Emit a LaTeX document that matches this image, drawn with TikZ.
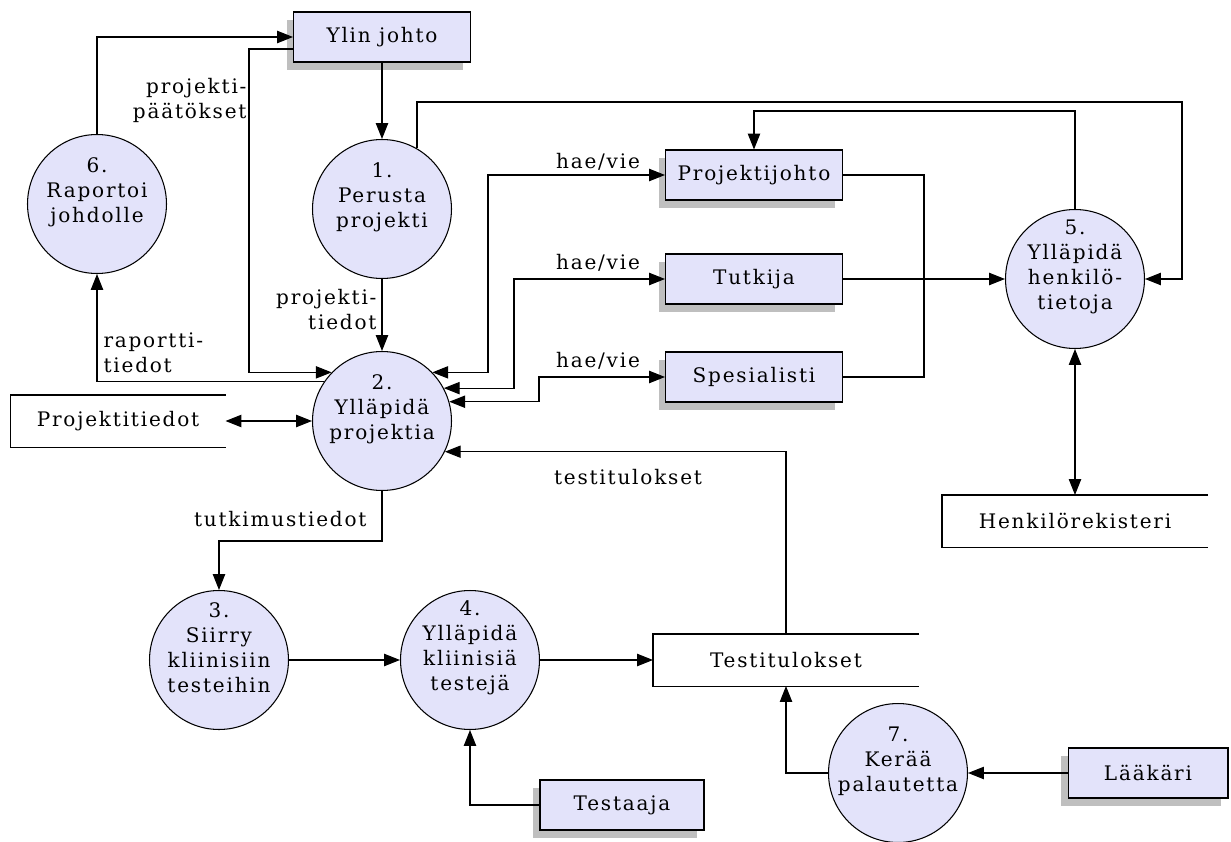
\documentclass[tikz,border=0pt]{standalone}
\usepackage{fontspec}
\setmainfont{DejaVu Serif}[LetterSpace=9]
\usetikzlibrary{arrows.meta,shadows,calc}
\definecolor{lav}{RGB}{227,227,250}
\definecolor{shade}{RGB}{191,191,191}
\tikzset{
  ent/.style={draw=black, fill=lav, minimum width=3.54cm, minimum height=1cm,
    drop shadow={shadow xshift=-0.14cm, shadow yshift=-0.16cm, fill=shade, opacity=1}},
  proc/.style={draw=black, fill=lav, shape=circle, minimum size=2.78cm, inner sep=0pt},
  ptxt/.style={align=center, yshift=0.24cm},
  store/.style={minimum height=1.02cm},
  lbl/.style={inner sep=0pt},
  flow/.style={-{Triangle[length=9pt,width=7pt]}},
  both/.style={{Triangle[length=9pt,width=7pt]}-{Triangle[length=9pt,width=7pt]}},
}
\begin{document}
\begin{tikzpicture}[x=0.02cm, y=-0.02cm, line width=0.6pt, font=\fontsize{11.4}{14.2}\selectfont]
  \useasboundingbox (0,0) rectangle (1231,842);

  \node[ent] (yj) at (382,37) {Ylin johto};
  \node[ent] (pj) at (754,175) {Projektijohto};
  \node[ent] (tu) at (754,279) {Tutkija};
  \node[ent] (sp) at (754,377) {Spesialisti};
  \node[ent, minimum width=3.28cm] (ts) at (622,805) {Testaaja};
  \node[ent, minimum width=3.2cm] (lk) at (1148,773) {Lääkäri};

  \node[proc] (c1) at (382,209) {};
  \node[ptxt] (c1t) at (c1) {1.\\Perusta\\projekti};
  \node[proc] (c2) at (382,421) {};
  \node[ptxt] (c2t) at (c2) {2.\\Ylläpidä\\projektia};
  \node[proc] (c3) at (219,660) {};
  \node[ptxt] (c3t) at (c3) {3.\\Siirry\\kliinisiin\\testeihin};
  \node[proc] (c4) at (470,660) {};
  \node[ptxt] (c4t) at (c4) {4.\\Ylläpidä\\kliinisiä\\testejä};
  \node[proc] (c5) at (1075,279) {};
  \node[ptxt] (c5t) at (c5) {5.\\Ylläpidä\\henkilö-\\tietoja};
  \node[proc] (c6) at (97,204) {};
  \node[ptxt] (c6t) at (c6) {6.\\Raportoi\\johdolle};
  \node[proc] (c7) at (898,773) {};
  \node[ptxt] (c7t) at (c7) {7.\\Kerää\\palautetta};

  \node[store, minimum width=4.28cm] (pt) at (118,421) {Projektitiedot};
  \node[store, minimum width=5.3cm] (hr) at (1075,521) {Henkilörekisteri};
  \node[store, minimum width=5.3cm] (tt) at (786,660) {Testitulokset};
  \draw (pt.north east) -- (pt.north west) -- (pt.south west) -- (pt.south east);
  \draw (hr.north east) -- (hr.north west) -- (hr.south west) -- (hr.south east);
  \draw (tt.north east) -- (tt.north west) -- (tt.south west) -- (tt.south east);

  \node[lbl, anchor=east, align=right] (lpp) at (247,100) {projekti-\\päätökset};
  \node[lbl, anchor=east, align=right] (lpt) at (377,310) {projekti-\\tiedot};
  \node[lbl, anchor=west, align=left] (lrt) at (103,353) {raportti-\\tiedot};
  \node[lbl, anchor=east] (ltk) at (367,519) {tutkimustiedot};
  \node[lbl] (ltt) at (628,477) {testitulokset};
  \node[lbl] (lh1) at (598,162) {hae/vie};
  \node[lbl] (lh2) at (598,263) {hae/vie};
  \node[lbl] (lh3) at (598,361) {hae/vie};

  \draw[flow] (yj.south) -- (c1.north);
  \draw[flow] (c6.north) |- (yj.west);
  \draw[flow] ($(yj.west)+(0,12)$) -- ++(-44,0) |- (c2.136);
  \draw[flow] (c1.south) -- (c2.north);
  \draw[flow] (c2.146) -| (c6.south);
  \draw[both] (pt.east) -- (c2.west);
  \draw[flow] (c2.south) -- ++(0,50) -| (c3.north);
  \draw[flow] (c3.east) -- (c4.west);
  \draw[flow] (c4.east) -- (tt.west);
  \draw[flow] (ts.west) -| (c4.south);
  \draw[flow] (lk.west) -- (c7.east);
  \draw[flow] (c7.west) -| (tt.south);
  \draw[flow] (tt.north) |- (c2.-26.5);
  \draw[both] (pj.west) -- ++(-177,0) |- (c2.44);
  \draw[both] (tu.west) -- ++(-151,0) |- (c2.28);
  \draw[both] (sp.west) -- ++(-126,0) |- (c2.16);
  \draw (pj.east) -- ++(81,0) |- (sp.east);
  \draw[flow] (tu.east) -- (c5.west);
  \draw[flow] (c1.60) |- ($(c5.east)+(37,-177)$) |- (c5.east);
  \draw[flow] (c5.north) -- ++(0,-98) -| (pj.north);
  \draw[both] (c5.south) -- (hr.north);
\end{tikzpicture}
\end{document}
